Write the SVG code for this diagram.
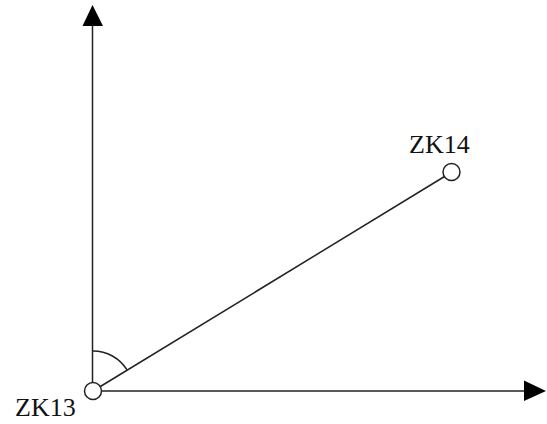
<svg xmlns="http://www.w3.org/2000/svg" width="547" height="424" viewBox="0 0 547 424">
<style>
.ln{stroke:#222;stroke-width:1.5;fill:none}
.hd{fill:#000;stroke:none}
.pt{stroke:#222;stroke-width:1.5;fill:#fff}
.lb{font-family:"Liberation Serif","Times New Roman",serif;font-size:26px;fill:#111}
</style>
<rect width="547" height="424" fill="#fff"/>
<g id="connectors">
<line class="ln" x1="92.5" y1="391" x2="92.5" y2="22"/>
<polygon class="hd" points="92.5,5 82.5,26 103,26"/>
<line class="ln" x1="92.5" y1="391" x2="526" y2="391"/>
<polygon class="hd" points="546,391 524,380.5 524,401"/>
<line class="ln" x1="93" y1="391" x2="444.5" y2="176.5"/>
<path class="ln" d="M92.5,351 A40,40 0 0 1 127.2,370.2"/>
</g>
<g id="ZK13">
<circle class="pt" cx="93" cy="391" r="8.5"/>
<text class="lb" x="15" y="416">ZK13</text>
</g>
<g id="ZK14">
<circle class="pt" cx="451.5" cy="172" r="8.5"/>
<text class="lb" x="409" y="153">ZK14</text>
</g>
</svg>
